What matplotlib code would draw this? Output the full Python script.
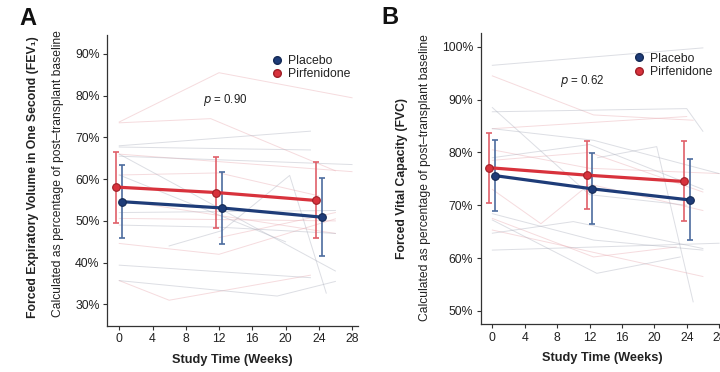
import matplotlib
matplotlib.use("Agg")
import matplotlib.pyplot as plt
from matplotlib.lines import Line2D
from matplotlib.ticker import FuncFormatter

plt.rcParams["font.family"] = ["Liberation Sans", "DejaVu Sans"]

# ---------- data -------------------------------------------------------------
WEEKS = [0, 12, 24]
XTICKS = [0, 4, 8, 12, 16, 20, 24, 28]

# Panel A: FEV1 (% of post-transplant baseline)
A_PLAC_MEAN = [54.6, 53.1, 50.9]
A_PLAC_LO = [46.0, 44.5, 41.7]
A_PLAC_HI = [63.3, 61.7, 60.2]
A_PIRF_MEAN = [58.1, 56.8, 54.9]
A_PIRF_LO = [49.6, 48.4, 46.0]
A_PIRF_HI = [66.6, 65.3, 64.0]
A_P_TEXT = "0.90"
A_YTICKS = [30, 40, 50, 60, 70, 80, 90]

# individual patient trajectories (weeks, values)
A_PIRF_PATIENTS = [
    ([0, 12, 28], [73.7, 85.5, 79.5]),
    ([0, 11, 26], [73.5, 74.5, 62.0]),
    ([0, 28], [66.0, 61.8]),
    ([0, 26], [50.6, 50.0]),
    ([0, 26], [55.0, 47.0]),
    ([0, 12, 26], [44.6, 42.0, 50.5]),
    ([0, 6, 23], [35.7, 31.0, 37.0]),
    ([12, 26], [46.0, 52.0]),
    ([0, 12, 24], [61.0, 61.5, 56.0]),
]
A_PLAC_PATIENTS = [
    ([0, 23], [68.0, 71.5]),
    ([0, 23], [67.7, 67.0]),
    ([0, 28], [65.5, 63.5]),
    ([0, 26], [66.0, 38.0]),
    ([6, 12.4, 20.5, 24.9], [44.0, 47.7, 60.9, 32.7]),
    ([0, 23], [39.4, 36.4]),
    ([0, 19, 26], [35.7, 32.0, 35.5]),
    ([0, 26], [52.0, 52.5]),
    ([0, 20], [61.0, 45.0]),
    ([0, 12, 26], [49.0, 48.5, 47.0]),
]

# Panel B: FVC (% of post-transplant baseline)
B_PLAC_MEAN = [75.6, 73.1, 71.0]
B_PLAC_LO = [68.9, 66.5, 63.4]
B_PLAC_HI = [82.3, 79.9, 78.7]
B_PIRF_MEAN = [77.1, 75.7, 74.5]
B_PIRF_LO = [70.5, 69.2, 67.0]
B_PIRF_HI = [83.7, 82.2, 82.1]
B_P_TEXT = "0.62"
B_YTICKS = [50, 60, 70, 80, 90, 100]

B_PIRF_PATIENTS = [
    ([0, 12.5, 24.8], [94.5, 87.1, 86.1]),
    ([0, 24], [84.5, 86.8]),
    ([0, 12, 28], [80.5, 77.0, 76.0]),
    ([0, 12.5, 22.7], [67.5, 60.2, 62.1]),
    ([0, 26], [65.3, 56.5]),
    ([0, 6, 12, 26], [73.0, 66.5, 74.0, 69.0]),
    ([0, 12, 26], [78.5, 80.0, 72.5]),
]
B_PLAC_PATIENTS = [
    ([0, 26], [96.5, 99.8]),
    ([0, 12, 24], [88.5, 72.0, 70.0]),
    ([0, 24, 26], [87.7, 88.3, 84.0]),
    ([0, 12.5, 28], [84.5, 82.3, 76.0]),
    ([13, 20.3, 24.8], [79.0, 81.1, 51.7]),
    ([0, 12.5, 26], [68.4, 63.4, 61.5]),
    ([0, 10, 26], [64.7, 66.9, 61.8]),
    ([0, 28], [61.5, 62.8]),
    ([0, 12.9, 23.2], [67.2, 57.1, 60.2]),
    ([0, 12, 26], [79.0, 81.5, 73.0]),
]

# ---------- style ------------------------------------------------------------
NAVY = "#1e3c78"
NAVY_EDGE = "#142a55"
NAVY_BAR = "#4d6c9e"
RED = "#d8323c"
RED_EDGE = "#9e1f27"
RED_BAR = "#e0606a"
PINK_BG = "#eab0b6"
GRAY_BG = "#a9adbb"
TXT = "#222222"
DODGE = 0.35


def draw_panel(ax, plac, pirf, plac_pat, pirf_pat, yticks, ylim, ptext, ppos,
               ylab_bold, ylab_pos, leg_anchor):
    for wk, val in pirf_pat:
        ax.plot(wk, val, color=PINK_BG, lw=0.7, alpha=0.45, zorder=1)
    for wk, val in plac_pat:
        ax.plot(wk, val, color=GRAY_BG, lw=0.7, alpha=0.4, zorder=1)

    for (mean, lo, hi), shift, col, edge, bar in (
            (pirf, -DODGE, RED, RED_EDGE, RED_BAR),
            (plac, DODGE, NAVY, NAVY_EDGE, NAVY_BAR)):
        x = [w + shift for w in WEEKS]
        err = [[m - l for m, l in zip(mean, lo)], [h - m for m, h in zip(mean, hi)]]
        ax.errorbar(x, mean, yerr=err, fmt="none", ecolor=bar, elinewidth=1.2,
                    capsize=2.5, capthick=1.2, zorder=3)
        ax.plot(x, mean, color=col, lw=2.3, marker="o", markersize=5.5,
                markerfacecolor=col, markeredgecolor=edge, markeredgewidth=0.8,
                zorder=4)

    ax.set_xlim(-1.44, 28.7)
    ax.set_ylim(*ylim)
    ax.set_xticks(XTICKS)
    ax.set_yticks(yticks)
    ax.yaxis.set_major_formatter(FuncFormatter(lambda v, _: f"{v:.0f}%"))
    for s in ("top", "right"):
        ax.spines[s].set_visible(False)
    for s in ("left", "bottom"):
        ax.spines[s].set_color("#333333")
        ax.spines[s].set_linewidth(0.9)
    ax.tick_params(labelsize=8.8, colors="#333333", labelcolor=TXT,
                   length=3, width=0.8, pad=2.5)
    ax.set_xlabel("Study Time (Weeks)", fontsize=9.2, fontweight="bold",
                  color=TXT, labelpad=6)

    (bx, by), (rx, ry) = ylab_pos
    ax.text(bx, by, ylab_bold, rotation=90, ha="center", va="center",
            fontsize=8.8, fontweight="bold", color=TXT, transform=ax.transAxes)
    ax.text(rx, ry,
            "Calculated as percentage of post\u2013transplant baseline",
            rotation=90, ha="center", va="center", fontsize=8.7, color=TXT,
            transform=ax.transAxes)

    ax.text(ppos[0], ppos[1], f"$p$ = {ptext}", ha="center", va="center",
            fontsize=8.3, color=TXT)

    handles = [
        Line2D([], [], ls="none", marker="o", markersize=5.5, color=NAVY,
               markeredgecolor=NAVY_EDGE, label="Placebo"),
        Line2D([], [], ls="none", marker="o", markersize=5.5, color=RED,
               markeredgecolor=RED_EDGE, label="Pirfenidone"),
    ]
    ax.legend(handles=handles, loc="upper left", bbox_to_anchor=leg_anchor,
              frameon=False, fontsize=8.8, borderpad=0, borderaxespad=0,
              handlelength=0.8, handletextpad=0.5, labelspacing=0.12,
              labelcolor=TXT)


fig = plt.figure(figsize=(7.2, 3.72), dpi=100)
fig.patch.set_facecolor("white")

axA = fig.add_axes([0.149, 0.1245, 0.348, 0.781])
draw_panel(axA,
           (A_PLAC_MEAN, A_PLAC_LO, A_PLAC_HI),
           (A_PIRF_MEAN, A_PIRF_LO, A_PIRF_HI),
           A_PLAC_PATIENTS, A_PIRF_PATIENTS,
           A_YTICKS, (24.9, 94.5), A_P_TEXT, (12.75, 78.9),
           "Forced Expiratory Volume in One Second (FEV\u2081)",
           ((-0.296, 0.51), (-0.197, 0.525)), (0.657, 0.932))

axB = fig.add_axes([0.6676, 0.129, 0.339, 0.782])
draw_panel(axB,
           (B_PLAC_MEAN, B_PLAC_LO, B_PLAC_HI),
           (B_PIRF_MEAN, B_PIRF_LO, B_PIRF_HI),
           B_PLAC_PATIENTS, B_PIRF_PATIENTS,
           B_YTICKS, (47.5, 102.6), B_P_TEXT, (11.07, 93.5),
           "Forced Vital Capacity (FVC)",
           ((-0.324, 0.50), (-0.228, 0.505)), (0.627, 0.933))

fig.text(19 / 720, 1 - 25 / 372, "A", fontsize=17, fontweight="bold",
         color="#111111", va="baseline")
fig.text(381 / 720, 1 - 24 / 372, "B", fontsize=17, fontweight="bold",
         color="#111111", va="baseline")

fig.savefig("out.png", dpi=100, facecolor="white")
